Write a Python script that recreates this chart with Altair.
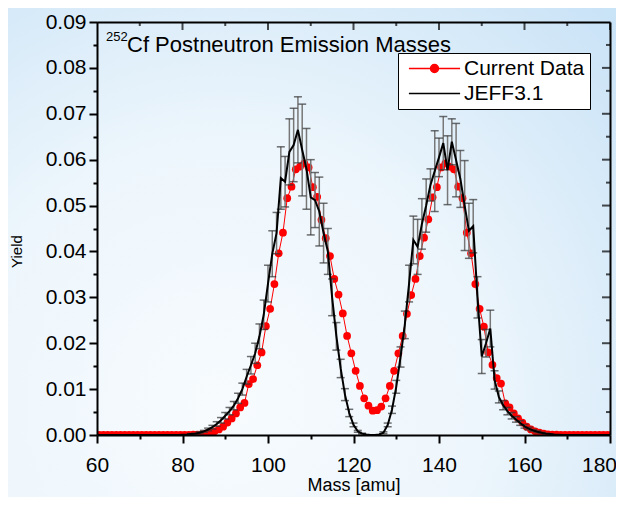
import altair as alt
import pandas as pd

# ---------------- data ----------------
series_names = ["Current Data", "JEFF3.1"]
series_colors = ["#ff0000", "#000000"]

# Current data: one point per mass unit (plotted at bin centres)
cur_mass = [60.5 + i for i in range(120)]
cur_yield = [
    0.00001, 0.00001, 0.00001, 0.00001, 0.00001, 0.00001, 0.00001, 0.00001, 0.00001, 0.00001,  # 60.5-69.5
    0.00001, 0.00001, 0.00001, 0.00001, 0.00001, 0.00001, 0.00001, 0.00001, 0.00001, 0.00001,  # 70.5-79.5
    0.00001, 0.00003, 0.00006, 0.0001, 0.00015, 0.0003, 0.0005, 0.0008, 0.0012, 0.0018,        # 80.5-89.5
    0.0027, 0.0036, 0.0047, 0.0060, 0.0070, 0.0111, 0.0122, 0.0152, 0.0180, 0.0237,            # 90.5-99.5
    0.0275, 0.0329, 0.0396, 0.0441, 0.0516, 0.0541, 0.0579, 0.0585, 0.0592, 0.0583,            # 100.5-109.5
    0.0540, 0.0519, 0.0469, 0.0429, 0.0390, 0.0340, 0.0306, 0.0265, 0.0216, 0.0178,            # 110.5-119.5
    0.0140, 0.0107, 0.0080, 0.0064, 0.0053, 0.0054, 0.0062, 0.0080, 0.0107, 0.0140,            # 120.5-129.5
    0.0178, 0.0216, 0.0264, 0.0305, 0.0340, 0.0390, 0.0430, 0.0470, 0.0518, 0.0540,            # 130.5-139.5
    0.0583, 0.0592, 0.0585, 0.0579, 0.0541, 0.0516, 0.0441, 0.0396, 0.0329, 0.0275,            # 140.5-149.5
    0.0236, 0.0180, 0.0153, 0.0124, 0.0112, 0.0069, 0.0060, 0.0047, 0.0036, 0.0027,            # 150.5-159.5
    0.0018, 0.0012, 0.0008, 0.0005, 0.0003, 0.00015, 0.0001, 0.00006, 0.00003, 0.00001,        # 160.5-169.5
    0.00001, 0.00001, 0.00001, 0.00001, 0.00001, 0.00001, 0.00001, 0.00001, 0.00001, 0.00001,  # 170.5-179.5
]

# JEFF3.1 evaluation, integer masses 60..180
jeff_mass = list(range(60, 181))
jeff_yield = [
    0, 0, 0, 0, 0, 0, 0, 0, 0, 0,                                                               # 60-69
    0, 0, 0, 0, 0, 0, 0, 0, 0, 0,                                                               # 70-79
    0.00005, 0.0001, 0.0002, 0.0003, 0.0005, 0.0008, 0.0012, 0.0017, 0.0024, 0.0032,            # 80-89
    0.0042, 0.0052, 0.0064, 0.0080, 0.0100, 0.0127, 0.0152, 0.0178, 0.0215, 0.0262,            # 90-99
    0.0330, 0.0395, 0.0440, 0.0560, 0.0552, 0.0617, 0.0632, 0.0665, 0.0621, 0.0580,            # 100-109
    0.0518, 0.0512, 0.0487, 0.0440, 0.0400, 0.0300, 0.0215, 0.0145, 0.0088, 0.0048,            # 110-119
    0.0022, 0.0008, 0.0003, 0.0001, 0.0, 0.0, 0.0001, 0.0005, 0.0022, 0.0055,                  # 120-129
    0.0105, 0.0170, 0.0240, 0.0330, 0.0425, 0.0410, 0.0460, 0.0500, 0.0545, 0.0575,            # 130-139
    0.0605, 0.0636, 0.0577, 0.0639, 0.0599, 0.0558, 0.0500, 0.0445, 0.0455, 0.0300,            # 140-149
    0.0171, 0.0200, 0.0232, 0.0120, 0.0083, 0.0065, 0.0052, 0.0042, 0.0034, 0.0026,            # 150-159
    0.0019, 0.0014, 0.0010, 0.0007, 0.0005, 0.0003, 0.0002, 0.0001, 0.00005, 0,                # 160-169
    0, 0, 0, 0, 0, 0, 0, 0, 0, 0, 0,                                                            # 170-180
]
jeff_err = [
    0, 0, 0, 0, 0, 0, 0, 0, 0, 0,
    0, 0, 0, 0, 0, 0, 0, 0, 0, 0,
    0, 0, 0.0001, 0.0001, 0.0002, 0.0002, 0.0003, 0.0004, 0.0005, 0.0006,
    0.0007, 0.0008, 0.0009, 0.0011, 0.0013, 0.0016, 0.0019, 0.0022, 0.0027, 0.0032,
    0.0040, 0.0050, 0.0045, 0.0068, 0.0055, 0.0072, 0.0080, 0.0072, 0.0100, 0.0088,
    0.0082, 0.0060, 0.0075, 0.0065, 0.0050, 0.0040, 0.0030, 0.0020, 0.0013, 0.0008,
    0.0004, 0.0002, 0.0001, 0, 0, 0, 0, 0.0002, 0.0004, 0.0008,
    0.0014, 0.0022, 0.0030, 0.0040, 0.0052, 0.0060, 0.0055, 0.0058, 0.0035, 0.0088,
    0.0042, 0.0058, 0.0075, 0.0050, 0.0080, 0.0062, 0.0098, 0.0060, 0.0058, 0.0045,
    0.0037, 0.0030, 0.0040, 0.0020, 0.0013, 0.0010, 0.0008, 0.0007, 0.0006, 0.0005,
    0.0004, 0.0003, 0.0002, 0.0002, 0.0001, 0.0001, 0, 0, 0, 0,
    0, 0, 0, 0, 0, 0, 0, 0, 0, 0, 0,
]

x_ticks = list(range(60, 181, 10))
x_major_ticks = list(range(60, 181, 20))
x_minor_ticks = list(range(70, 180, 20))
y_ticks = [round(0.005 * i, 3) for i in range(19)]
y_major_ticks = [round(0.01 * i, 2) for i in range(10)]
y_minor_ticks = [round(0.005 + 0.01 * i, 3) for i in range(9)]

# ---------------- tables ----------------
cur = pd.DataFrame({"mass": cur_mass, "yield": cur_yield})
jeff = pd.DataFrame({"mass": jeff_mass, "yield": jeff_yield, "err": jeff_err})
jeff["lo"] = jeff["yield"] - jeff["err"]
jeff["hi"] = jeff["yield"] + jeff["err"]
bars = jeff[jeff["err"] > 0]
leg_df = pd.DataFrame({"series": series_names})

W, H = 513, 413
PAD = {"left": 89, "top": 14, "right": 6, "bottom": 62}
FONT = "Liberation Sans"
xs = alt.Scale(domain=[60, 180], nice=False, zero=False)
ys = alt.Scale(domain=[0, 0.09], nice=False, zero=False)

x_major = "datum.value % 20 == 0"
y_major = "abs(datum.value * 100 - round(datum.value * 100)) < 0.000001"

x_axis = alt.Axis(
    orient="bottom", values=x_ticks, labelExpr=f"{x_major} ? datum.label : ''",
    tickSize={"condition": {"test": x_major, "value": 8}, "value": 4},
    labelOffset={"condition": {"test": "datum.value == 180", "value": -11}, "value": 0},
    tickWidth=2, tickColor="black", domain=True, domainColor="black", domainWidth=2,
    labelFont=FONT, labelFontSize=21, labelColor="black", labelPadding=11,
    labelFlush=False, labelOverlap=False, grid=False, zindex=1,
    title="Mass [amu]", titleFont=FONT, titleFontSize=18, titleFontWeight="normal",
    titleColor="black", titlePadding=1,
)
y_axis = alt.Axis(
    orient="left", values=y_ticks,
    labelExpr=f"{y_major} ? format(datum.value, '.2f') : ''",
    tickSize={"condition": {"test": y_major, "value": 8}, "value": 4},
    tickWidth=2, tickColor="black", domain=True, domainColor="black", domainWidth=2,
    labelFont=FONT, labelFontSize=21, labelColor="black", labelPadding=3,
    labelFlush=False, labelOverlap=False, grid=False, zindex=1,
    title="Yield", titleFont=FONT, titleFontSize=15, titleFontWeight="normal",
    titleColor="black", titleX=-73, titleY=229,
)
# frame lines on the top and right (domain only)
x_axis_top = alt.Axis(orient="top", domain=True, domainColor="black", domainWidth=2,
                      ticks=False, labels=False, title=None, grid=False, zindex=1)
y_axis_right = alt.Axis(orient="right", domain=True, domainColor="black", domainWidth=2,
                        ticks=False, labels=False, title=None, grid=False, zindex=1)

# soft blue backdrop behind the whole figure
backdrop = alt.Chart(pd.DataFrame({"k": [0]})).mark_rect(
    clip=False,
    fill=alt.RadialGradient(
        gradient="radial", x1=0.35, y1=0.75, r1=0, x2=0.35, y2=0.75, r2=0.95,
        stops=[alt.GradientStop(offset=0, color="#f7fbfe"),
               alt.GradientStop(offset=0.45, color="#edf6fc"),
               alt.GradientStop(offset=1, color="#c6e1f6")],
    ),
).encode(x=alt.value(-PAD["left"]), x2=alt.value(W + PAD["right"]),
         y=alt.value(-PAD["top"]), y2=alt.value(H + PAD["bottom"]))

red_line = alt.Chart(cur).mark_line(color="#ff0000", strokeWidth=1, clip=True).encode(
    x=alt.X("mass:Q", scale=xs, axis=x_axis),
    y=alt.Y("yield:Q", scale=ys, axis=y_axis),
)
red_pts = alt.Chart(cur).mark_circle(color="#ff0000", size=60, opacity=1, clip=True).encode(
    x=alt.X("mass:Q", axis=None), y=alt.Y("yield:Q", axis=None),
)
err_rules = alt.Chart(bars).mark_rule(color="#777777", strokeWidth=1.5, clip=True).encode(
    x=alt.X("mass:Q", axis=None), y=alt.Y("lo:Q", axis=None), y2="hi:Q",
)
cap_hi = alt.Chart(bars).mark_tick(orient="horizontal", color="#333333", thickness=1.5, size=8, clip=True).encode(
    x=alt.X("mass:Q", axis=None), y=alt.Y("hi:Q", axis=None))
cap_lo = alt.Chart(bars).mark_tick(orient="horizontal", color="#333333", thickness=1.5, size=8, clip=True).encode(
    x=alt.X("mass:Q", axis=None), y=alt.Y("lo:Q", axis=None))
black_line = alt.Chart(jeff).mark_line(color="black", strokeWidth=2, clip=True).encode(
    x=alt.X("mass:Q", axis=None), y=alt.Y("yield:Q", axis=None),
)

# inward ticks on the top and right frame edges (ticks centred on the frame, clipped to the plot)
def top_ticks(vals, length, axis):
    return alt.Chart(pd.DataFrame({"v": vals})).mark_tick(
        orient="vertical", color="black", thickness=2, size=2 * length, clip=True
    ).encode(x=alt.X("v:Q", axis=axis), y=alt.value(0))

def right_ticks(vals, length, axis):
    return alt.Chart(pd.DataFrame({"v": vals})).mark_tick(
        orient="horizontal", color="black", thickness=2, size=2 * length, clip=True
    ).encode(y=alt.Y("v:Q", axis=axis), x=alt.value(W))

sym_dot = "M-3.2,0L3.2,0M-0.5,0A0.5,0.5,0,1,1,0.5,0A0.5,0.5,0,1,1,-0.5,0Z"
sym_line = "M-3.2,0L3.2,0"
leg = alt.Legend(
    orient="none", legendX=301, legendY=31, title=None,
    fillColor="white", strokeColor="black", padding=5, zindex=1,
    labelFont=FONT, labelFontSize=21, labelColor="black", labelOffset=19,
    symbolSize=256, symbolOffset=21, symbolStrokeWidth=1.5, symbolOpacity=1, rowPadding=3,
)
legend_layer = alt.Chart(leg_df).mark_point(filled=True, opacity=0).encode(
    x=alt.value(0), y=alt.value(0),
    fill=alt.Fill("series:N", scale=alt.Scale(domain=series_names, range=series_colors), legend=leg),
    stroke=alt.Stroke("series:N", scale=alt.Scale(domain=series_names, range=series_colors), legend=leg),
    shape=alt.Shape("series:N", scale=alt.Scale(domain=series_names, range=[sym_dot, sym_line]), legend=leg),
)

ann_main = alt.Chart(pd.DataFrame({"t": ["Cf Postneutron Emission Masses"]})).mark_text(
    align="left", baseline="alphabetic", font=FONT, fontSize=22, color="black"
).encode(x=alt.value(30), y=alt.value(30), text="t:N")
ann_sup = alt.Chart(pd.DataFrame({"t": ["252"]})).mark_text(
    align="left", baseline="alphabetic", font=FONT, fontSize=13, color="black"
).encode(x=alt.value(9), y=alt.value(19), text="t:N")

chart = alt.layer(
    backdrop, red_line, red_pts, err_rules, cap_hi, cap_lo, black_line,
    top_ticks(x_major_ticks, 8, x_axis_top), top_ticks(x_minor_ticks, 4, None),
    right_ticks(y_major_ticks, 8, y_axis_right), right_ticks(y_minor_ticks, 4, None),
    legend_layer, ann_main, ann_sup,
).resolve_axis(x="independent", y="independent").properties(
    width=W, height=H,
    autosize=alt.AutoSizeParams(type="none"),
    padding=PAD,
).configure(background="#e6f2fb").configure_view(stroke="black", strokeWidth=2)

chart.save("out.html", embed_options={"renderer": "svg", "actions": False})
